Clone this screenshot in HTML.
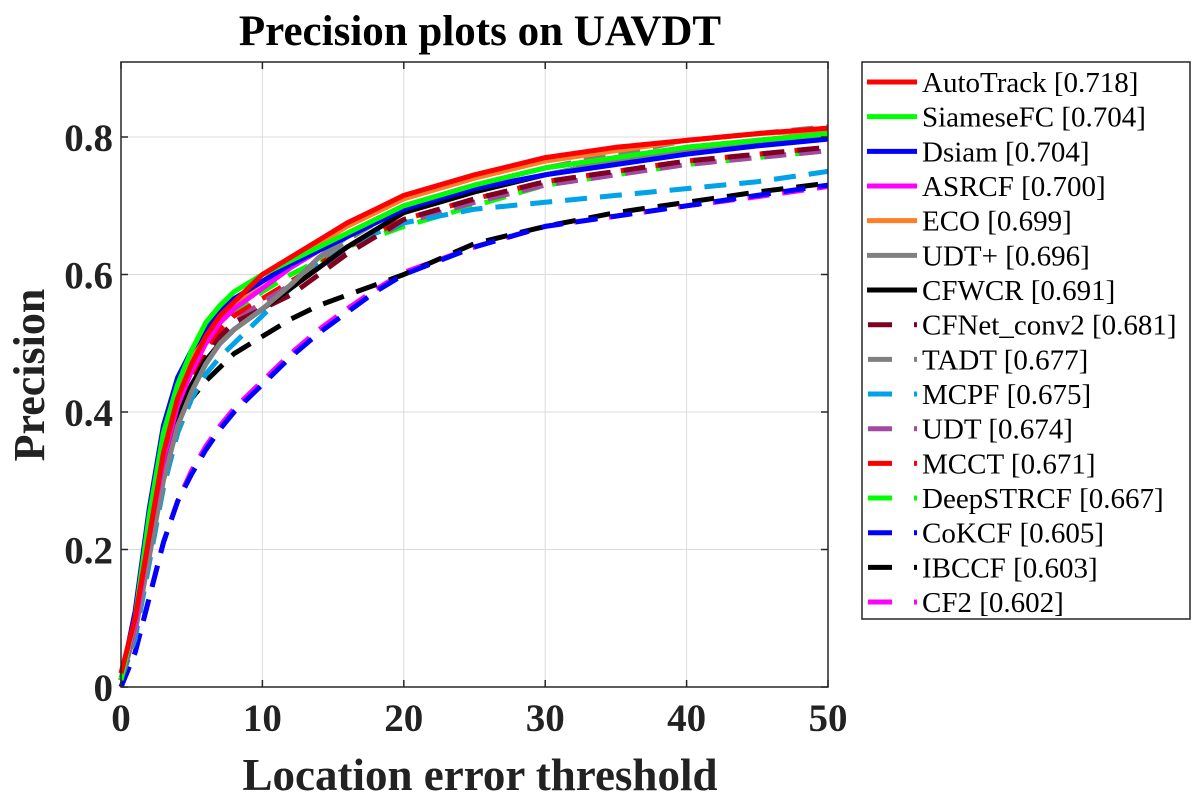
<!DOCTYPE html>
<html><head><meta charset="utf-8"><style>
html,body{margin:0;padding:0;background:#fff;}
svg{display:block;}
svg text{font-family:"Liberation Serif",serif;}
</style></head><body>
<svg id="chart" width="1198" height="800">
<rect x="0" y="0" width="1198" height="800" fill="#fff"/>
<text x="480" y="45" text-anchor="middle" font-size="43" font-weight="bold" font-family="Liberation Serif, serif">Precision plots on UAVDT</text>
<g id="grid"></g>
<g id="series"></g>
<g id="axes"></g>
<text x="480" y="790" text-anchor="middle" font-size="45" font-weight="bold" fill="#222" font-family="Liberation Serif, serif">Location error threshold</text>
<text transform="translate(44,375) rotate(-90)" text-anchor="middle" font-size="44" font-weight="bold" fill="#222" font-family="Liberation Serif, serif">Precision</text>
<g id="legend"></g>
</svg>
<script>
const thresholds=[0,1,2,3,4,5,6,7,8,10,12,14,16,18,20,25,30,35,40,45,50];
const names=["AutoTrack [0.718]","SiameseFC [0.704]","Dsiam [0.704]","ASRCF [0.700]","ECO [0.699]","UDT+ [0.696]","CFWCR [0.691]","CFNet_conv2 [0.681]","TADT [0.677]","MCPF [0.675]","UDT [0.674]","MCCT [0.671]","DeepSTRCF [0.667]","CoKCF [0.605]","IBCCF [0.603]","CF2 [0.602]"];
const colors=["#ff0000","#00ff00","#0000ff","#ff00ff","#ff7f27","#808080","#000000","#800020","#808080","#00a2e8","#a349a4","#ff0000","#00ff00","#0000ff","#000000","#ff00ff"];
const dashed=[false,false,false,false,false,false,false,true,true,true,true,true,true,true,true,true];
const vAutoTrack=[0.02,0.10,0.22,0.34,0.42,0.47,0.51,0.54,0.56,0.60,0.625,0.65,0.675,0.695,0.715,0.745,0.77,0.785,0.795,0.805,0.813];
const vSiameseFC=[0.01,0.10,0.25,0.37,0.44,0.49,0.53,0.555,0.575,0.60,0.62,0.64,0.66,0.68,0.70,0.73,0.755,0.77,0.785,0.795,0.805];
const vDsiam=[0.01,0.11,0.26,0.38,0.45,0.49,0.52,0.545,0.565,0.59,0.615,0.635,0.655,0.675,0.695,0.725,0.745,0.76,0.775,0.787,0.797];
const vASRCF=[0.01,0.09,0.22,0.33,0.41,0.46,0.50,0.53,0.55,0.58,0.61,0.635,0.66,0.68,0.70,0.73,0.755,0.77,0.785,0.795,0.805];
const vECO=[0.01,0.10,0.23,0.35,0.43,0.48,0.51,0.535,0.555,0.59,0.62,0.645,0.67,0.69,0.71,0.74,0.765,0.78,0.795,0.805,0.81];
const vUDTplus=[0.01,0.08,0.19,0.30,0.38,0.43,0.47,0.50,0.52,0.55,0.585,0.625,0.655,0.68,0.70,0.725,0.745,0.765,0.78,0.79,0.80];
const vCFWCR=[0.01,0.08,0.20,0.31,0.39,0.44,0.475,0.50,0.52,0.55,0.58,0.61,0.64,0.665,0.69,0.72,0.745,0.765,0.78,0.79,0.80];
const vCFNet=[0.01,0.08,0.20,0.31,0.39,0.44,0.48,0.51,0.53,0.55,0.57,0.60,0.63,0.655,0.68,0.71,0.735,0.75,0.765,0.775,0.785];
const vTADT=[0.01,0.08,0.19,0.30,0.38,0.43,0.47,0.50,0.52,0.55,0.585,0.62,0.65,0.675,0.70,0.73,0.755,0.775,0.795,0.805,0.815];
const vMCPF=[0.01,0.07,0.18,0.29,0.37,0.42,0.455,0.48,0.50,0.54,0.58,0.615,0.64,0.66,0.675,0.695,0.705,0.715,0.725,0.735,0.75];
const vUDT=[0.01,0.08,0.20,0.31,0.39,0.44,0.48,0.51,0.53,0.56,0.585,0.61,0.635,0.655,0.675,0.705,0.73,0.745,0.76,0.77,0.78];
const vMCCT=[0.01,0.09,0.21,0.32,0.40,0.45,0.49,0.52,0.54,0.565,0.59,0.615,0.64,0.66,0.68,0.71,0.735,0.75,0.765,0.775,0.785];
const vDeepSTRCF=[0.01,0.09,0.21,0.32,0.40,0.45,0.49,0.52,0.545,0.575,0.60,0.62,0.64,0.655,0.67,0.70,0.73,0.745,0.76,0.77,0.78];
const vCoKCF=[0.0,0.05,0.13,0.21,0.27,0.31,0.345,0.375,0.40,0.44,0.48,0.515,0.545,0.575,0.60,0.64,0.67,0.685,0.70,0.715,0.73];
const vIBCCF=[0.01,0.08,0.19,0.29,0.37,0.42,0.445,0.465,0.485,0.51,0.535,0.555,0.57,0.585,0.60,0.645,0.67,0.69,0.705,0.72,0.733];
const vCF2=[0.0,0.05,0.13,0.21,0.27,0.315,0.35,0.38,0.405,0.445,0.485,0.52,0.55,0.578,0.603,0.64,0.67,0.685,0.70,0.713,0.728];
const seriesValues=[vAutoTrack,vSiameseFC,vDsiam,vASRCF,vECO,vUDTplus,vCFWCR,vCFNet,vTADT,vMCPF,vUDT,vMCCT,vDeepSTRCF,vCoKCF,vIBCCF,vCF2];
const xTicks=[0,10,20,30,40,50];
const yTicks=[0,0.2,0.4,0.6,0.8];
const yTickLabels=["0","0.2","0.4","0.6","0.8"];

const NS="http://www.w3.org/2000/svg";
const L=121,R=828,T=62,B=687;
const xMax=50,yMax=(B-T)/687.5;
const sx=v=>L+(v/xMax)*(R-L);
const sy=v=>B-(v/yMax)*(B-T);
function mk(tag,attrs,parent){const e=document.createElementNS(NS,tag);for(const k in attrs)e.setAttribute(k,attrs[k]);parent.appendChild(e);return e;}
const grid=document.getElementById('grid'),axes=document.getElementById('axes'),sg=document.getElementById('series'),lg=document.getElementById('legend');
const FF="Liberation Serif, serif";
xTicks.forEach(t=>{
  const g=mk('line',{x1:sx(t),x2:sx(t),y1:T,y2:B,stroke:'#dcdcdc','stroke-width':1},grid);
  
  
  mk('line',{x1:sx(t),x2:sx(t),y1:B,y2:B-7,stroke:'#262626','stroke-width':1.5},axes);
  mk('line',{x1:sx(t),x2:sx(t),y1:T,y2:T+7,stroke:'#262626','stroke-width':1.5},axes);
  const tx=mk('text',{x:sx(t),y:B+44,'text-anchor':'middle','font-size':39,'font-weight':'bold',fill:'#222','font-family':FF},axes);
  tx.textContent=t;
  
  
});
yTicks.forEach((t,i)=>{
  const g=mk('line',{x1:L,x2:R,y1:sy(t),y2:sy(t),stroke:'#dcdcdc','stroke-width':1},grid);
  
  
  mk('line',{x1:L,x2:L+7,y1:sy(t),y2:sy(t),stroke:'#262626','stroke-width':1.5},axes);
  mk('line',{x1:R,x2:R-7,y1:sy(t),y2:sy(t),stroke:'#262626','stroke-width':1.5},axes);
  const tx=mk('text',{x:L-8,y:sy(t)+14,'text-anchor':'end','font-size':39,'font-weight':'bold',fill:'#222','font-family':FF},axes);
  tx.textContent=yTickLabels[i];
  
  
});
const frame=mk('rect',{x:L,y:T,width:R-L,height:B-T,fill:'none',stroke:'#262626','stroke-width':1.5},axes);


for(let i=seriesValues.length-1;i>=0;i--){
  const d=seriesValues[i].map((v,j)=>(j?'L':'M')+sx(thresholds[j]).toFixed(1)+','+sy(v).toFixed(1)).join('');
  const p=mk('path',{d:d,fill:'none',stroke:colors[i],'stroke-width':5,'stroke-linejoin':'round'},sg);
  if(dashed[i])p.setAttribute('stroke-dasharray','22 13');
  
  
}
const box=mk('rect',{x:862,y:62,width:328,height:557,fill:'#fff',stroke:'#262626','stroke-width':1.5},lg);


names.forEach((n,i)=>{
  const y=82+i*34.67;
  const g=mk('g',{},lg);
  
  
  if(dashed[i]){
    mk('line',{x1:868,x2:892,y1:y,y2:y,stroke:colors[i],'stroke-width':5},g);
    mk('line',{x1:914,x2:917,y1:y,y2:y,stroke:colors[i],'stroke-width':5},g);
  } else {
    mk('line',{x1:867,x2:917,y1:y,y2:y,stroke:colors[i],'stroke-width':5},g);
  }
  const t=mk('text',{x:922,y:y+10,'font-size':29,fill:'#000','font-family':FF},g);
  t.textContent=n;
});
</script>
</body></html>
